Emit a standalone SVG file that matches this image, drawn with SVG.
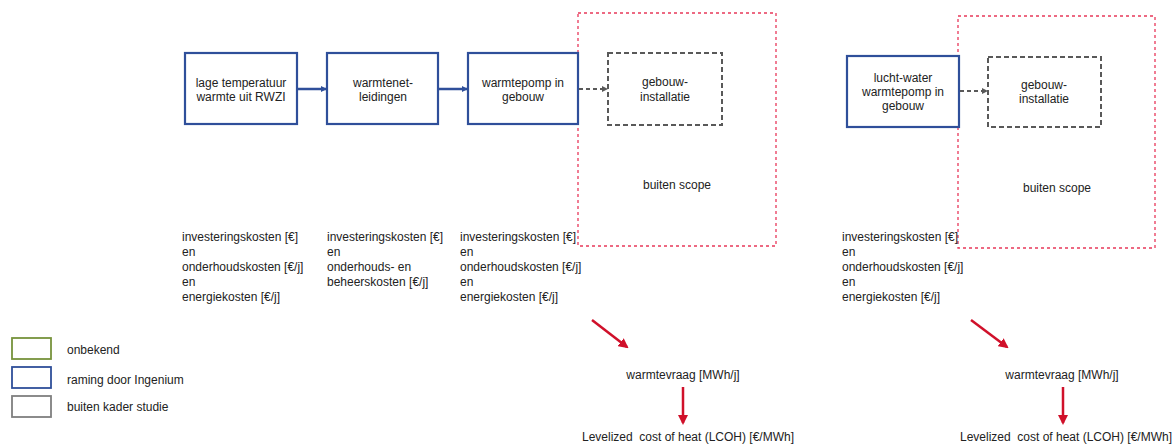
<svg xmlns="http://www.w3.org/2000/svg" width="1175" height="445" viewBox="0 0 1175 445">
<style>
text{font-family:"Liberation Sans",Arial,sans-serif;font-size:12px;fill:#222}
.c{text-anchor:middle}
.blue{fill:#fff;stroke:#2F4F9A;stroke-width:2.2}
.gray{fill:none;stroke:#595959;stroke-width:2;stroke-dasharray:5,3}
.scope{fill:none;stroke:#E8385A;stroke-width:1.3;stroke-dasharray:3,3}
.bl{stroke:#2F4F9A;stroke-width:2.5;fill:none}
.gl{stroke:#595959;stroke-width:2;stroke-dasharray:4,3;fill:none}
.rl{stroke:#D0102A;stroke-width:2.5;fill:none}
</style>
<defs>
<marker id="ab" markerWidth="6" markerHeight="6" refX="5" refY="3" orient="auto" markerUnits="userSpaceOnUse"><path d="M0,0 L6,3 L0,6 Z" fill="#2F4F9A"/></marker>
<marker id="ag" markerWidth="6" markerHeight="6" refX="5" refY="3" orient="auto" markerUnits="userSpaceOnUse"><path d="M0,0 L6,3 L0,6 Z" fill="#595959"/></marker>
<marker id="ar" markerWidth="10" markerHeight="10" refX="8" refY="5" orient="auto" markerUnits="userSpaceOnUse"><path d="M0,0 L10,5 L0,10 Z" fill="#D0102A"/></marker>
</defs>
<rect width="1175" height="445" fill="#fff"/>

<g id="scope1"><rect class="scope" x="578" y="13" width="198" height="233"/><text class="c" x="677" y="189">buiten scope</text></g>
<g id="scope2"><rect class="scope" x="958" y="16" width="197" height="232"/><text class="c" x="1057" y="192">buiten scope</text></g>

<g id="n1"><rect class="blue" x="185" y="53" width="112" height="71"/><text class="c" x="241" y="87">lage temperatuur</text><text class="c" x="241" y="101">warmte uit RWZI</text></g>
<g id="n2"><rect class="blue" x="327" y="53" width="111" height="71"/><text class="c" x="383" y="87">warmtenet-</text><text class="c" x="383" y="101">leidingen</text></g>
<g id="n3"><rect class="blue" x="468" y="53" width="110" height="71"/><text class="c" x="523" y="87">warmtepomp in</text><text class="c" x="523" y="101">gebouw</text></g>
<g id="n4"><rect class="gray" x="608" y="53" width="114" height="72"/><text class="c" x="665" y="86">gebouw-</text><text class="c" x="665" y="101">installatie</text></g>
<g id="n5"><rect class="blue" x="847" y="56" width="112" height="71"/><text class="c" x="903" y="82">lucht-water</text><text class="c" x="903" y="96">warmtepomp in</text><text class="c" x="903" y="110">gebouw</text></g>
<g id="n6"><rect class="gray" x="988" y="57" width="113" height="70"/><text class="c" x="1044" y="89">gebouw-</text><text class="c" x="1044" y="103">installatie</text></g>

<g id="costs1"><text x="182" y="241">investeringskosten [€]</text><text x="182" y="256">en</text><text x="182" y="271">onderhoudskosten [€/j]</text><text x="182" y="286">en</text><text x="182" y="301">energiekosten [€/j]</text></g>
<g id="costs2"><text x="327" y="241">investeringskosten [€]</text><text x="327" y="256">en</text><text x="327" y="271">onderhouds- en</text><text x="327" y="286">beheerskosten [€/j]</text></g>
<g id="costs3"><text x="460" y="241">investeringskosten [€]</text><text x="460" y="256">en</text><text x="460" y="271">onderhoudskosten [€/j]</text><text x="460" y="286">en</text><text x="460" y="301">energiekosten [€/j]</text></g>
<g id="costs4"><text x="842" y="241">investeringskosten [€]</text><text x="842" y="256">en</text><text x="842" y="271">onderhoudskosten [€/j]</text><text x="842" y="286">en</text><text x="842" y="301">energiekosten [€/j]</text></g>

<g id="demand1"><text class="c" x="683" y="379">warmtevraag [MWh/j]</text><text class="c" x="688" y="441" xml:space="preserve">Levelized  cost of heat (LCOH) [€/MWh]</text></g>
<g id="demand2"><text class="c" x="1062" y="379">warmtevraag [MWh/j]</text><text class="c" x="1066" y="441" xml:space="preserve">Levelized  cost of heat (LCOH) [€/MWh]</text></g>

<g id="connectors">
<line class="bl" x1="297" y1="89" x2="326" y2="89" marker-end="url(#ab)"/>
<line class="bl" x1="438" y1="89" x2="467" y2="89" marker-end="url(#ab)"/>
<line class="gl" x1="579" y1="89" x2="607" y2="89" marker-end="url(#ag)"/>
<line class="gl" x1="960" y1="91" x2="987" y2="91" marker-end="url(#ag)"/>
<line class="rl" x1="592" y1="320" x2="627" y2="347" marker-end="url(#ar)"/>
<line class="rl" x1="683" y1="387" x2="683" y2="423" marker-end="url(#ar)"/>
<line class="rl" x1="971" y1="320" x2="1007" y2="347" marker-end="url(#ar)"/>
<line class="rl" x1="1063" y1="387" x2="1063" y2="423" marker-end="url(#ar)"/>
</g>

<g id="legend">
<rect x="12" y="338" width="39" height="21" fill="#fff" stroke="#77933C" stroke-width="1.8"/><text x="67" y="354">onbekend</text>
<rect x="12" y="367" width="39" height="21" fill="#fff" stroke="#2F4F9A" stroke-width="1.8"/><text x="67" y="384">raming door Ingenium</text>
<rect x="12" y="396" width="39" height="21" fill="#fff" stroke="#7F7F7F" stroke-width="1.8"/><text x="67" y="411">buiten kader studie</text>
</g>
</svg>
